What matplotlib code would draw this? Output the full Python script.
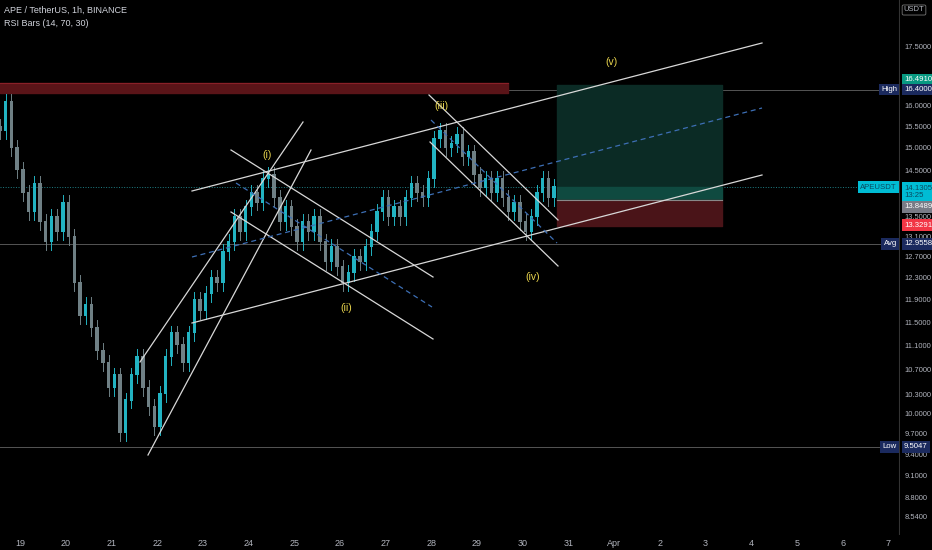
import matplotlib
matplotlib.use("Agg")
import matplotlib.pyplot as plt
import numpy as np

plt.rcParams["font.family"] = ["Liberation Sans", "DejaVu Sans"]

# ---- data ----
closes = [15.4, 16.1, 15.0, 14.5, 14.0, 13.6, 14.2, 13.4,
          13.0, 13.5, 13.2, 13.8, 13.1, 12.2, 11.6, 11.8,
          11.4, 11.0, 10.8, 10.4, 10.6, 9.7, 10.2, 10.6,
          10.9, 10.4, 10.1, 9.8, 10.3, 10.9, 11.3, 11.1,
          10.8, 11.3, 11.9, 11.7, 12.0, 12.3, 12.2, 12.8,
          13.0, 13.5, 13.2, 13.7, 14.0, 13.8, 14.3, 14.4,
          13.9, 13.4, 13.7, 13.3, 13.0, 13.4, 13.2, 13.5,
          13.0, 12.6, 12.9, 12.5, 12.2, 12.4, 12.7, 12.6,
          12.9, 13.2, 13.6, 13.9, 13.5, 13.7, 13.5, 13.9,
          14.2, 14.0, 13.9, 14.3, 15.2, 15.4, 15.0, 15.1,
          15.3, 14.8, 14.9, 14.4, 14.1, 14.3, 14.0, 14.3,
          13.9, 13.6, 13.8, 13.4, 13.2, 13.5, 14.0, 14.3,
          13.9, 14.13]
first_open = 15.5
start_day = 18.5
bar_days = 0.125
wick_frac = 0.012

price_ticks = [17.5, 16.0, 15.5, 15.0, 14.5, 13.5, 13.1, 12.7, 12.3, 11.9, 11.5,
               11.1, 10.7, 10.3, 10.0, 9.7, 9.4, 9.1, 8.8, 8.54]
day_ticks = [19, 20, 21, 22, 23, 24, 25, 26, 27, 28, 29, 30, 31, 32, 33, 34, 35, 36, 37, 38]
day_labels = ["19", "20", "21", "22", "23", "24", "25", "26", "27", "28", "29", "30", "31",
              "Apr", "2", "3", "4", "5", "6", "7"]
high_p, low_p, avg_p, last_p = 16.4, 9.5047, 12.9558, 14.1305
target_p, entry_p, stop_p = 16.4910, 13.8489, 13.3291

def D(x): return 19 + (x - 20) / 45.7
def P(y): return 17.5 * np.exp(-(y - 47) / 655)

FS = 5.6
fig = plt.figure(figsize=(9.32, 5.5), dpi=100, facecolor="black")
ax = fig.add_axes([0, 15/550, 900/932, 535/550])
ax.set_facecolor("black")
ax.set_yscale("log")
ax.set_xlim(D(0), D(900))
ax.set_ylim(P(535), P(0))

opens = [first_open] + closes[:-1]
for i, (o, c) in enumerate(zip(opens, closes)):
    x = start_day + bar_days * (i + 0.5)
    col = "#22b3c2" if c >= o else "#6f8085"
    hi, lo = max(o, c) * (1 + wick_frac), min(o, c) * (1 - wick_frac)
    ax.plot([x, x], [lo, hi], color=col, lw=0.7, zorder=3)
    ax.bar(x, abs(c - o) + 0.02, bottom=min(o, c), width=bar_days * 0.6, color=col, zorder=4)

for p, c, ls in [(high_p, "#555", "-"), (avg_p, "#555", "-"), (low_p, "#555", "-"),
                 (last_p, "#1f7f86", ":")]:
    ax.axhline(p, color=c, lw=0.7, ls=ls, zorder=1)

ax.fill_between([D(0), D(508)], P(93), P(83), color="#5a1418", zorder=2)
ax.plot([D(0), D(508)], [P(83), P(83)], color="#8a2028", lw=0.8, zorder=2)
ax.fill_between([D(557), D(722)], P(187), P(85), color="#0b2b25", zorder=1)
ax.fill_between([D(557), D(722)], P(200), P(187), color="#0f4a40", zorder=1)
ax.fill_between([D(557), D(722)], P(226), P(200), color="#4a1418", zorder=1)
ax.plot([D(557), D(722)], [P(200), P(200)], color="#888", lw=0.8, zorder=2)

lines = [((140, 362), (303, 122)), ((148, 455), (311, 150)),
         ((192, 191), (762, 43)), ((192, 323), (762, 175)),
         ((231, 150), (433, 277)), ((231, 212), (433, 339)),
         ((429, 95), (558, 220)), ((430, 142), (558, 266))]
for (x1, y1), (x2, y2) in lines:
    ax.plot([D(x1), D(x2)], [P(y1), P(y2)], color="#d8d8d8", lw=0.9, zorder=5)
dashed = [((192, 257), (762, 108)), ((236, 183), (432, 307)), ((431, 120), (557, 243))]
for (x1, y1), (x2, y2) in dashed:
    ax.plot([D(x1), D(x2)], [P(y1), P(y2)], color="#3d6fb5", lw=0.9, ls=(0, (4, 3)), zorder=5)

for t, x, y in [("(i)", 267, 155), ("(ii)", 346, 308), ("(iii)", 441, 106),
                ("(iv)", 533, 277), ("(v)", 612, 62)]:
    ax.text(D(x), P(y), t, color="#e8d44d", fontsize=7.5, ha="center", va="center", zorder=6)

for s in ax.spines.values():
    s.set_visible(False)
ax.axvline(D(899.5), color="#333", lw=0.8)
ax.yaxis.tick_right()
ax.set_yticks(price_ticks)
ax.set_yticklabels([f"{p:.4f}" for p in price_ticks])
ax.minorticks_off()
ax.tick_params(axis="y", length=0, pad=3.5, labelsize=5.4, labelcolor="#b2b5be")
ax.set_xticks(day_ticks)
ax.set_xticklabels(day_labels)
ax.tick_params(axis="x", length=0, pad=3, labelsize=6.5, labelcolor="#b2b5be")

def tag(y, txt, bg, fg="white"):
    ax.text(D(904), y, txt, color=fg, fontsize=FS, ha="left", va="center", zorder=10,
            linespacing=1.1, bbox=dict(boxstyle="square,pad=0.3", fc=bg, ec="none"), clip_on=False)

tag(P(80), "16.4910", "#089981")
tag(high_p, "16.4000", "#1b2a5e")
tag(P(192), "14.1305\n13:25", "#00bcd4", "#0a4a60")
tag(P(207), "13.8489", "#787b86")
tag(stop_p, "13.3291", "#f23645")
tag(avg_p, "12.9558", "#1b2a5e")
tag(low_p, "9.5047", "#1b2a5e")
for p, txt, bg, fg in [(high_p, "High", "#1b2a5e", "white"), (last_p, "APEUSDT", "#00bcd4", "#0a4a60"),
                       (avg_p, "Avg", "#1b2a5e", "white"), (low_p, "Low", "#1b2a5e", "white")]:
    ax.text(D(897), p, txt, color=fg, fontsize=FS, ha="right", va="center", zorder=10,
            bbox=dict(boxstyle="square,pad=0.3", fc=bg, ec="none"))
ax.text(D(914), P(10), "USDT", color="#b2b5be", fontsize=5.5, ha="center", va="center", zorder=10,
        bbox=dict(boxstyle="round,pad=0.2", fc="black", ec="#777", lw=0.6), clip_on=False)

fig.text(4/932, 1 - 10/550, "APE / TetherUS, 1h, BINANCE", color="#d1d4dc", fontsize=6.5, va="center")
fig.text(4/932, 1 - 23/550, "RSI Bars (14, 70, 30)", color="#d1d4dc", fontsize=6.5, va="center")

fig.savefig("out.png", dpi=100, facecolor="black")
